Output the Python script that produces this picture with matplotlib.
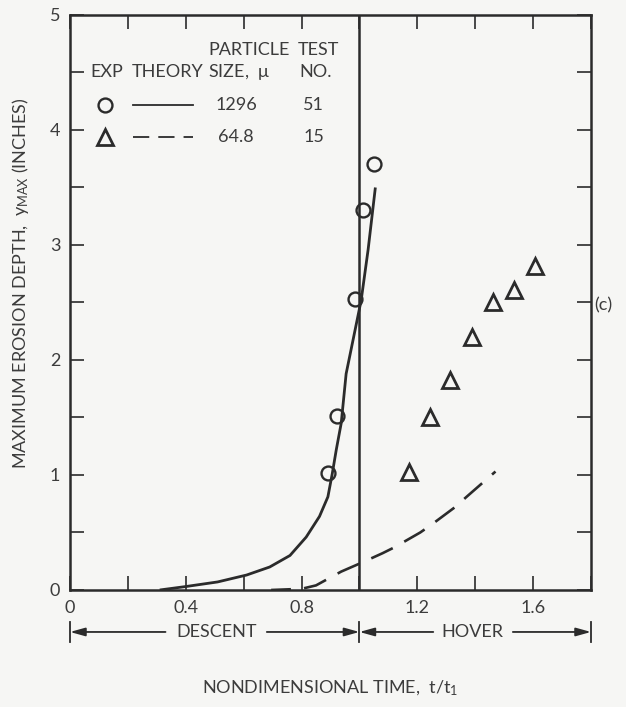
import matplotlib
matplotlib.use("Agg")
import matplotlib.pyplot as plt
import numpy as np

plt.rcParams['font.family'] = ['Lato', 'DejaVu Sans']
plt.rcParams['mathtext.default'] = 'regular'

INK = '#2b2b2b'
TXT = '#3c3c3c'
BG = '#f6f6f4'

# Experimental points, test 51 (1296 micron particles)
exp51_t = [0.893, 0.923, 0.983, 1.013, 1.052]
exp51_y = [1.02, 1.51, 2.53, 3.30, 3.70]

# Experimental points, test 15 (64.8 micron particles)
exp15_t = [1.172, 1.245, 1.313, 1.390, 1.462, 1.534, 1.607]
exp15_y = [1.03, 1.50, 1.83, 2.20, 2.50, 2.61, 2.82]

# Theory, 1296 micron
th51_t = [0.31, 0.40, 0.51, 0.61, 0.69, 0.76, 0.816, 0.862, 0.891, 0.906,
          0.92, 0.937, 0.954, 0.98, 1.006, 1.03, 1.055]
th51_y = [0.00, 0.03, 0.07, 0.13, 0.20, 0.30, 0.46, 0.64, 0.81, 1.01,
          1.22, 1.45, 1.88, 2.20, 2.52, 2.96, 3.50]

# Theory, 64.8 micron
th15_t = [0.695, 0.80, 0.85, 0.937, 1.01, 1.08, 1.12, 1.21, 1.25, 1.33, 1.37, 1.47]
th15_y = [0.00, 0.01, 0.04, 0.16, 0.24, 0.32, 0.37, 0.50, 0.57, 0.72, 0.81, 1.03]

xtick_labels = ['0', '0.4', '0.8', '1.2', '1.6']
xtick_vals = [0.0, 0.4, 0.8, 1.2, 1.6]
ytick_vals = [0, 1, 2, 3, 4, 5]

fig = plt.figure(figsize=(6.26, 7.07), dpi=100, facecolor=BG)
ax = fig.add_axes([0.1118, 0.1655, 0.8323, 0.8133], facecolor=BG)

ax.set_xlim(0, 1.8)
ax.set_ylim(0, 5)

ax.plot(th51_t, th51_y, color=INK, lw=2.0, solid_capstyle='butt',
        solid_joinstyle='round')
ax.plot(th15_t, th15_y, color=INK, lw=1.9, ls=(1.5, (9, 5)))
ax.axvline(1.0, color=INK, lw=1.8)

ax.plot(exp51_t, exp51_y, ls='none', marker='o', ms=10, mfc='none',
        mec=INK, mew=1.7)
ax.plot(exp15_t, exp15_y, ls='none', marker='^', ms=11, mfc='none',
        mec=INK, mew=2.0)

for s in ax.spines.values():
    s.set_color(INK)
    s.set_linewidth(1.8)

ax.set_xticks(xtick_vals)
ax.set_xticklabels(xtick_labels)
ax.set_xticks(np.arange(0, 1.81, 0.2), minor=True)
ax.set_yticks(ytick_vals)
ax.set_yticks(np.arange(0, 5.01, 0.5), minor=True)
ax.tick_params(which='both', direction='in', length=10, width=1.2,
               color=INK, top=True, right=True)
ax.tick_params(which='major', labelsize=13, labelcolor=TXT, pad=7)

# Key table inside the plot
ta = ax.transAxes
fs = 13
ax.text(0.265, 0.939, 'PARTICLE', transform=ta, fontsize=fs, color=TXT, va='center')
ax.text(0.438, 0.939, 'TEST', transform=ta, fontsize=fs, color=TXT, va='center')
ax.text(0.040, 0.901, 'EXP', transform=ta, fontsize=fs, color=TXT, va='center')
ax.text(0.119, 0.901, 'THEORY', transform=ta, fontsize=fs, color=TXT, va='center')
ax.text(0.265, 0.901, 'SIZE,  $\\mu$', transform=ta, fontsize=fs, color=TXT, va='center')
ax.text(0.440, 0.901, 'NO.', transform=ta, fontsize=fs, color=TXT, va='center')

ax.plot([0.067], [0.843], transform=ta, marker='o', ms=10, mfc='none',
        mec=INK, mew=1.7, clip_on=False)
ax.plot([0.121, 0.236], [0.843, 0.843], transform=ta, color=INK, lw=1.3)
ax.text(0.319, 0.843, '1296', transform=ta, fontsize=fs, color=TXT,
        va='center', ha='center')
ax.text(0.468, 0.843, '51', transform=ta, fontsize=fs, color=TXT,
        va='center', ha='center')

ax.plot([0.067], [0.788], transform=ta, marker='^', ms=11, mfc='none',
        mec=INK, mew=2.0, clip_on=False)
ax.plot([0.121, 0.236], [0.788, 0.788], transform=ta, color=INK, lw=1.3,
        ls=(0, (9, 5)))
ax.text(0.319, 0.788, '64.8', transform=ta, fontsize=fs, color=TXT,
        va='center', ha='center')
ax.text(0.468, 0.788, '15', transform=ta, fontsize=fs, color=TXT,
        va='center', ha='center')

# Descent / hover phase markers below the axis
bt = ax.get_xaxis_transform()
ya = -0.073
for xb in (0.0, 1.0, 1.8):
    ax.plot([xb, xb], [ya - 0.018, ya + 0.018], transform=bt, color=INK,
            lw=1.3, clip_on=False)
arrow = dict(arrowstyle='-|>,head_length=0.9,head_width=0.25', color=INK,
             lw=1.3, shrinkA=0, shrinkB=0)
for x0, x1 in ((0.33, 0.0), (0.68, 1.0), (1.255, 1.0), (1.53, 1.8)):
    ax.annotate('', xy=(x1, ya), xytext=(x0, ya), xycoords=bt,
                textcoords=bt, arrowprops=arrow, annotation_clip=False)
ax.text(0.505, ya, 'DESCENT', transform=bt, fontsize=13, color=TXT,
        ha='center', va='center')
ax.text(1.39, ya, 'HOVER', transform=bt, fontsize=13, color=TXT,
        ha='center', va='center')

fig.text(0.528, 0.027, 'NONDIMENSIONAL TIME,  t/t$_1$', fontsize=13,
         color=TXT, ha='center', va='center')
fig.text(0.033, 0.60, 'MAXIMUM EROSION DEPTH,  y$_{MAX}$ (INCHES)',
         fontsize=13, color=TXT, ha='center', va='center', rotation=90)
fig.text(0.963, 0.568, '(c)', fontsize=13, color=TXT, ha='center', va='center')

fig.savefig('out.png', dpi=100, facecolor=BG)
